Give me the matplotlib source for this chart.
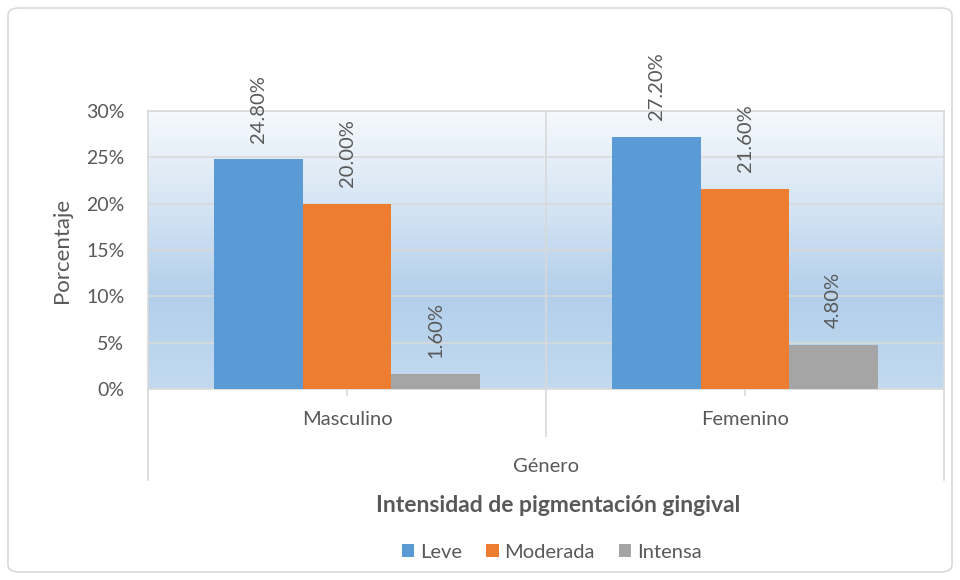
import matplotlib.pyplot as plt
import numpy as np
from matplotlib.patches import FancyBboxPatch, Patch
from matplotlib.colors import LinearSegmentedColormap
import matplotlib.transforms as mtransforms

plt.rcParams['font.family'] = ['Lato', 'DejaVu Sans']

categories = ["Masculino", "Femenino"]
series_names = ["Leve", "Moderada", "Intensa"]
leve = [24.8, 27.2]
moderada = [20.0, 21.6]
intensa = [1.6, 4.8]
yticks = [0, 5, 10, 15, 20, 25, 30]
colors = ["#5b9bd5", "#ed7d31", "#a5a5a5"]
text_col = "#595959"
grid_col = "#d9d9d9"

fig = plt.figure(figsize=(9.6, 5.8), dpi=100)
fig.patch.set_facecolor("white")

# outer rounded border
fig.patches.append(FancyBboxPatch((8 / 960, 8 / 580), 944 / 960, 564 / 580,
                                  boxstyle="round,pad=0,rounding_size=0.012",
                                  transform=fig.transFigure, fill=False,
                                  edgecolor=grid_col, linewidth=1.2))

ax = fig.add_axes([148 / 960, 1 - 389 / 580, 796 / 960, 278 / 580])

# gradient background
grad = LinearSegmentedColormap.from_list("g", ["#c3daf0", "#b2cfeb", "#d6e5f4", "#f6f9fd"])
ax.imshow(np.linspace(0, 1, 256).reshape(-1, 1), cmap=grad, origin="lower",
          extent=[-0.5, 1.5, 0, 30], aspect="auto", zorder=0)

x = np.arange(len(categories))
w = 0.223
for i, (vals, name) in enumerate(zip([leve, moderada, intensa], series_names)):
    bars = ax.bar(x + (i - 1) * w, vals, w, color=colors[i], label=name, zorder=3)
    for b, v in zip(bars, vals):
        ax.annotate(f"{v:.2f}%", (b.get_x() + b.get_width() / 2, v),
                    xytext=(0, 12), textcoords="offset points",
                    rotation=90, ha="center", va="bottom",
                    fontsize=14.5, color=text_col, zorder=4)

ax.set_xlim(-0.5, 1.5)
ax.set_ylim(0, 30)
ax.set_yticks(yticks)
ax.set_yticklabels([f"{t}%" for t in yticks], fontsize=14, color=text_col)
ax.set_xticks([])
ax.tick_params(axis="y", length=0, pad=17)
ax.grid(axis="y", color=grid_col, linewidth=1.2, zorder=1)
ax.axvline(0.5, color=grid_col, linewidth=1.2, zorder=1)
for s in ["top", "left", "right", "bottom"]:
    ax.spines[s].set_color(grid_col)
    ax.spines[s].set_linewidth(1.2)
ax.set_axisbelow(True)

ax.set_ylabel("Porcentaje", fontsize=16, color=text_col, labelpad=10)

# multi-level category axis
tr = mtransforms.blended_transform_factory(ax.transData, ax.transAxes)
for xv, y2 in [(-0.5, -0.327), (0.5, -0.169), (1.5, -0.327)]:
    ax.plot([xv, xv], [0, y2], transform=tr, color=grid_col, lw=1.2, clip_on=False)
for xv in x:
    ax.plot([xv, xv], [0, -0.022], transform=tr, color=grid_col, lw=1.2, clip_on=False)
    ax.text(xv, -0.11, categories[xv], transform=tr, ha="center", va="center",
            fontsize=14.5, color=text_col)
ax.text(0.5, -0.28, "Género", transform=tr, ha="center", va="center",
        fontsize=14.5, color=text_col)

fig.text(558 / 960, 1 - 505 / 580, "Intensidad de pigmentación gingival",
         ha="center", va="center", fontsize=16.5, fontweight="bold", color=text_col)

handles = [Patch(facecolor=c, label=n) for c, n in zip(colors, series_names)]
fig.legend(handles=handles, loc="center", bbox_to_anchor=(552 / 960, 1 - 552 / 580),
           ncol=3, frameon=False, fontsize=14.5, labelcolor=text_col,
           handlelength=0.6, handleheight=0.6, handletextpad=0.3, columnspacing=1.2)

fig.savefig("out.png", dpi=100)
